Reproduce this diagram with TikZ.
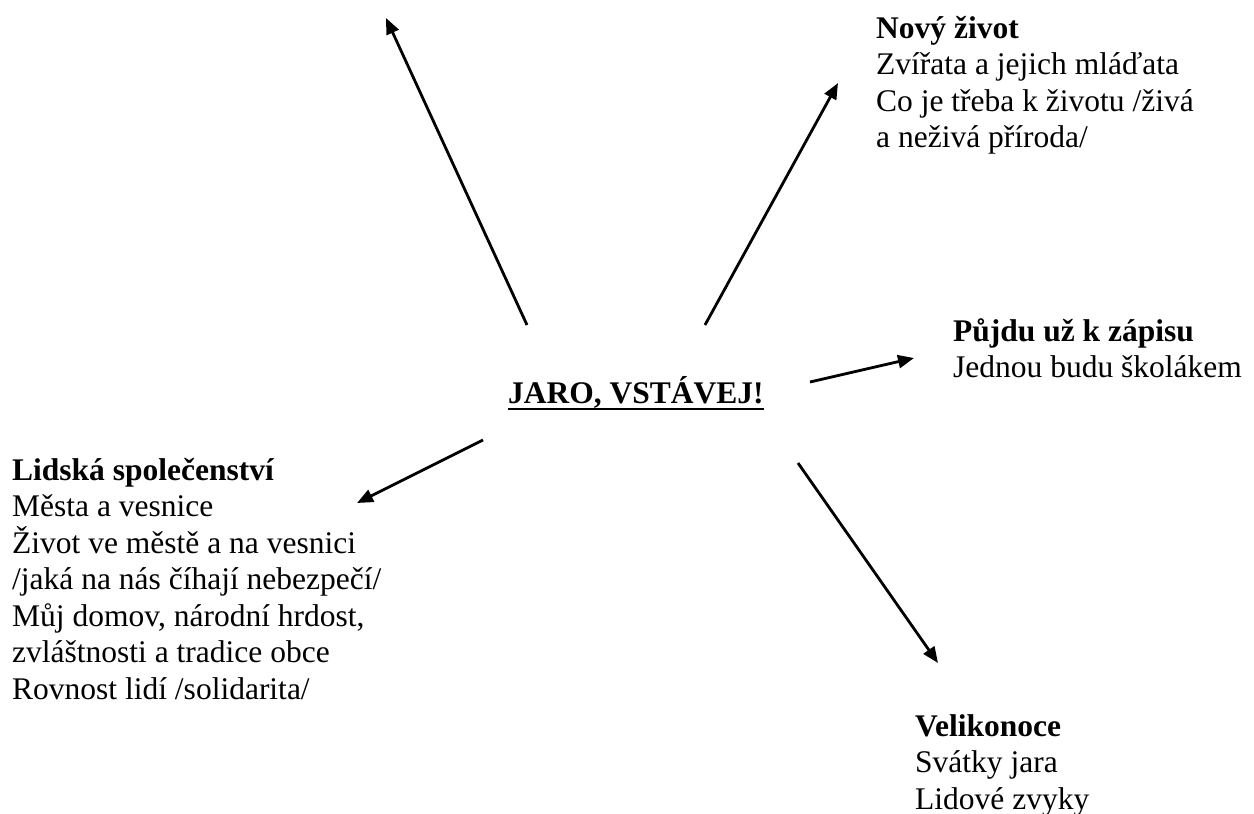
\documentclass[tikz,border=0pt]{standalone}
\usepackage{fontspec}
\setmainfont{Liberation Serif}
\usetikzlibrary{arrows.meta}
\tikzset{
  txt/.style={anchor=base west, inner sep=0pt, align=left, font=\fontsize{31.5}{36.5}\selectfont},
  arr/.style={line width=2.8pt, -{Triangle[length=16pt,width=13pt]}}
}
\begin{document}
\begin{tikzpicture}[x=1pt,y=-1pt]
\useasboundingbox (0,0) rectangle (1254,814);
% base anchor of a multi-line node is the baseline of its last line
\node[txt] (nz) at (876,147.5) {\textbf{Nový život}\\Zvířata a jejich mláďata\\Co je třeba k životu /živá\\a neživá příroda/};
\node[txt] (pz) at (953,377.5) {\textbf{Půjdu už k zápisu}\\Jednou budu školákem};
\node[txt] (c) at (508,403) {\textbf{JARO, VSTÁVEJ!}};
\draw[line width=2.8pt] ([yshift=-6pt]c.base west) -- ([yshift=-6pt]c.base east);
\node[txt] (ls) at (12,699) {\textbf{Lidská společenství}\\Města a vesnice\\Život ve městě a na vesnici\\/jaká na nás číhají nebezpečí/\\Můj domov, národní hrdost,\\zvláštnosti a tradice obce\\Rovnost lidí /solidarita/};
\node[txt] (vel) at (915,809) {\textbf{Velikonoce}\\Svátky jara\\Lidové zvyky};
\coordinate (a1s) at (527,325); \coordinate (a1e) at (386,18);
\coordinate (a2s) at (705,325); \coordinate (a2e) at (838,83);
\coordinate (a3s) at (810,382); \coordinate (a3e) at (914,358);
\coordinate (a4s) at (483,440); \coordinate (a4e) at (357,503);
\coordinate (a5s) at (798,463); \coordinate (a5e) at (938,663);
\draw[arr] (a1s) -- (a1e);
\draw[arr] (a2s) -- (a2e);
\draw[arr] (a3s) -- (a3e);
\draw[arr] (a4s) -- (a4e);
\draw[arr] (a5s) -- (a5e);
\end{tikzpicture}
\end{document}
